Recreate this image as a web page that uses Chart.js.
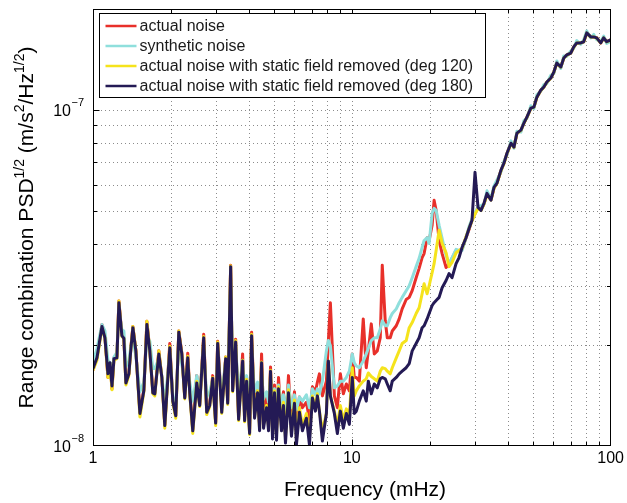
<!DOCTYPE html>
<html>
<head>
<meta charset="utf-8">
<title>Range combination PSD</title>
<script src="https://cdn.jsdelivr.net/npm/chart.js@4.4.1/dist/chart.umd.min.js"></script>
<style>
  html, body { margin: 0; padding: 0; background: #fff; }
  #wrap { width: 627px; height: 503px; }
</style>
</head>
<body>
<div id="wrap"><canvas id="psd-chart" width="627" height="503"></canvas></div>
<script>
'use strict';

// frequency in mHz
var freq = [
  1.000,1.036,1.083,1.112,1.142,1.163,1.184,1.205,1.237,1.259,1.293,1.316,1.340,1.376,1.401,1.426,1.464,1.518,1.572,1.615,
  1.658,1.703,1.733,1.796,1.845,1.894,1.980,2.034,2.088,2.145,2.203,2.262,2.323,2.365,2.429,2.517,2.584,2.677,2.750,2.824,
  2.900,2.978,3.031,3.143,3.256,3.314,3.403,3.464,3.557,3.653,3.785,3.853,3.922,4.028,4.100,4.210,4.324,4.401,4.480,4.560,
  4.683,4.767,4.852,4.939,5.027,5.117,5.209,5.349,5.445,5.542,5.692,5.845,6.003,6.110,6.275,6.444,6.677,6.858,7.043,7.233,7.363,
  7.495,7.697,7.975,8.118,8.263,8.561,8.793,9.030,9.274,9.524,9.781,10.04,10.22,10.41,10.69,11.07,11.37,11.58,11.89,12.21,
  12.54,12.88,13.11,13.46,13.71,14.07,14.33,14.85,15.24,15.65,16.22,16.66,17.11,17.72,18.20,18.69,19.02,19.54,19.89,20.43,
  20.79,21.17,21.74,22.33,23.13,23.75,24.39,25.28,25.96,26.66,27.62,28.37,
  29.13,29.92,30.73,31.56,32.41,33.28,34.49,35.42,36.38,37.69,38.71,39.75,41.19,42.30,43.44,45.01,46.22,47.47,49.18,50.51,
  51.87,53.75,55.20,56.68,58.73,60.31,61.94,64.18,65.91,67.69,70.13,72.02,73.96,76.64,78.71,80.83,83.75,86.01,88.33,91.52,
  93.99,96.53,100
];

// PSD^1/2 values, in units of 1e-8 m/s^2/Hz^1/2
var actualNoise = [
  1.68,1.84,2.30,2.12,1.60,1.77,1.48,1.83,1.85,2.70,2.15,2.10,1.55,1.64,1.97,2.27,1.93,1.26,1.47,2.35,
  1.93,1.45,1.44,1.92,1.60,1.16,2.02,1.37,1.23,2.20,1.90,1.40,1.89,1.45,1.12,1.62,1.33,2.15,1.27,1.34,
  1.62,1.18,2.05,1.30,1.84,1.36,3.45,1.48,2.08,1.22,1.88,1.22,1.60,1.12,2.18,1.26,1.50,1.16,1.88,1.20,
  1.40,1.20,1.72,1.12,1.52,1.12,1.60,1.18,1.45,1.10,1.62,1.15,1.45,1.12,1.40,1.30,1.35,1.20,1.50,1.45,1.55,
  1.64,1.41,1.56,2.06,2.67,1.41,1.30,1.64,1.43,1.53,1.46,1.88,1.60,1.60,1.56,2.39,1.71,1.92,2.31,1.88,
  1.92,2.10,3.45,2.36,2.10,2.10,2.20,2.28,2.39,2.56,2.73,2.77,2.90,3.17,3.38,3.64,3.74,4.17,4.09,4.54,
  5.39,5.03,4.09,3.74,3.40,3.47,3.62,3.82,3.82,3.85,4.17,4.41,
  4.72,4.92,5.12,5.05,5.26,5.62,5.41,5.86,6.08,6.60,6.97,7.40,7.99,7.74,8.55,8.70,9.17,9.50,10.16,10.19,
  10.95,11.45,11.74,12.10,12.48,12.95,13.83,13.42,14.32,14.58,14.81,15.40,15.87,15.83,16.00,16.95,16.55,16.50,16.43,15.83,
  16.43,15.96,16.20
];
var syntheticNoise = [
  1.78,1.95,2.30,2.20,1.80,1.77,1.65,1.84,1.90,2.55,2.22,2.20,1.72,1.80,1.98,2.10,1.85,1.45,1.55,2.10,
  2.05,1.70,1.70,1.82,1.62,1.32,1.90,1.40,1.32,2.05,1.75,1.55,1.70,1.55,1.36,1.62,1.45,1.95,1.40,1.45,
  1.58,1.32,1.85,1.42,1.80,1.50,3.10,1.70,2.02,1.40,1.80,1.45,1.62,1.35,1.90,1.45,1.55,1.40,1.65,1.38,
  1.45,1.35,1.60,1.30,1.48,1.28,1.52,1.32,1.42,1.25,1.52,1.30,1.42,1.28,1.40,1.36,1.42,1.30,1.48,1.42,1.48,
  1.43,1.56,1.92,2.06,1.99,1.49,1.51,1.56,1.56,1.60,1.67,1.88,1.77,1.73,1.71,1.79,1.88,1.95,2.06,2.10,
  2.10,2.23,2.36,2.28,2.28,2.41,2.48,2.56,2.67,2.77,2.90,3.00,3.17,3.42,3.62,3.90,4.09,4.17,4.01,4.93,
  5.10,5.03,4.54,4.15,3.69,3.49,3.64,3.85,3.82,3.82,4.17,4.50,
  4.75,4.95,5.15,5.20,5.25,5.75,5.45,5.95,6.20,6.55,7.05,7.35,8.10,7.70,8.65,8.60,9.30,9.45,10.30,10.10,
  11.10,11.40,11.90,12.00,12.70,12.85,14.00,13.30,14.50,14.45,15.00,15.30,16.10,15.70,16.20,17.20,16.40,16.80,16.20,16.00,
  16.60,15.80,16.00
];
var removedDeg120 = [
  1.68,1.80,2.25,2.10,1.60,1.76,1.47,1.80,1.82,2.70,2.12,2.09,1.52,1.62,1.96,2.27,1.93,1.22,1.45,2.35,
  1.92,1.43,1.41,1.92,1.60,1.13,1.98,1.35,1.21,2.20,1.88,1.38,1.85,1.43,1.09,1.56,1.31,2.12,1.24,1.31,
  1.60,1.15,2.04,1.25,1.84,1.33,3.44,1.45,2.06,1.19,1.80,1.18,1.58,1.08,2.15,1.22,1.46,1.12,1.78,1.16,
  1.32,1.14,1.68,1.08,1.46,1.08,1.50,1.14,1.35,1.06,1.47,1.10,1.37,1.05,1.30,1.15,1.25,1.06,1.41,1.31,1.43,
  1.27,1.11,1.25,1.79,1.41,1.27,1.15,1.32,1.19,1.29,1.23,1.71,1.41,1.46,1.51,1.56,1.585,1.65,1.61,1.585,
  1.56,1.67,1.71,1.70,1.67,1.64,1.71,1.83,1.92,2.02,2.06,2.25,2.33,2.48,2.58,2.84,3.04,2.84,3.00,3.28,
  3.49,3.82,4.39,4.01,3.76,3.42,3.52,3.76,3.82,3.87,4.20,4.44,
  4.68,4.90,5.10,5.02,5.25,5.60,5.40,5.85,6.05,6.60,6.93,7.42,7.95,7.75,8.52,8.70,9.13,9.52,10.12,10.20,
  10.90,11.45,11.70,12.10,12.45,12.96,13.78,13.43,14.28,14.58,14.78,15.40,15.83,15.85,15.96,16.95,16.50,16.50,16.40,15.85,
  16.40,15.97,16.17
];
var removedDeg180 = [
  1.70,1.83,2.27,2.10,1.64,1.77,1.51,1.82,1.83,2.67,2.13,2.09,1.54,1.64,1.95,2.25,1.92,1.25,1.46,2.30,
  1.92,1.44,1.43,1.88,1.60,1.15,1.96,1.36,1.23,2.18,1.88,1.39,1.83,1.44,1.11,1.54,1.32,2.10,1.26,1.32,
  1.59,1.17,2.02,1.26,1.82,1.34,3.42,1.46,2.04,1.20,1.79,1.19,1.56,1.09,2.13,1.21,1.44,1.11,1.77,1.13,
  1.30,1.11,1.67,1.05,1.44,1.04,1.48,1.11,1.32,1.02,1.44,1.07,1.34,1.01,1.26,1.11,1.21,1.01,1.39,1.27,1.41,
  1.27,1.035,1.25,1.79,1.41,1.25,1.09,1.27,1.13,1.25,1.16,1.60,1.25,1.27,1.36,1.46,1.36,1.56,1.43,1.53,
  1.49,1.585,1.60,1.585,1.53,1.46,1.56,1.60,1.64,1.67,1.71,1.76,1.92,2.02,2.10,2.25,2.28,2.39,2.48,2.62,
  2.67,2.71,2.77,2.96,3.11,3.26,3.17,3.49,3.64,3.90,4.17,4.44,
  4.70,6.53,5.13,5.03,5.28,5.65,5.39,5.89,6.06,6.63,6.95,7.44,7.97,7.76,8.54,8.72,9.15,9.53,10.14,10.21,
  10.93,11.47,11.72,12.12,12.46,12.98,13.81,13.44,14.30,14.60,14.79,15.42,15.85,15.85,15.98,16.98,16.52,16.52,16.41,15.85,
  16.41,15.98,16.18
];

var seriesNames = [
  'actual noise',
  'synthetic noise',
  'actual noise with static field removed (deg 120)',
  'actual noise with static field removed (deg 180)'
];
var seriesColors = ['#e8302a', '#8fdfdc', '#f5e31c', '#241a55'];

var xMajorTicks = [1, 10, 100];
var xGridValues = [2, 3, 4, 5, 6, 7, 8, 9, 10, 20, 30, 40, 50, 60, 70, 80, 90];
var yGridValues = [2e-8, 3e-8, 4e-8, 5e-8, 6e-8, 7e-8, 8e-8, 9e-8, 1e-7];
var yTickExponents = [-8, -7];

var FONT = '"Liberation Sans", Arial, Helvetica, sans-serif';

function toPoints(vals) {
  return freq.map(function(f, i) {
    return { x: f, y: vals[i] * 1e-8 };
  });
}

function hLine(ctx, x1, x2, y) {
  ctx.beginPath(); ctx.moveTo(x1, y); ctx.lineTo(x2, y); ctx.stroke();
}
function vLine(ctx, x, y1, y2) {
  ctx.beginPath(); ctx.moveTo(x, y1); ctx.lineTo(x, y2); ctx.stroke();
}

// text with superscript pieces: parts = [[text, isSup], ...]
function richWidth(ctx, parts, size, supSize) {
  var w = 0;
  parts.forEach(function(p) {
    ctx.font = (p[1] ? supSize : size) + 'px ' + FONT;
    w += ctx.measureText(p[0]).width;
  });
  return w;
}
function drawRich(ctx, parts, x, y, size, supSize, supRise) {
  var cx = x;
  parts.forEach(function(p) {
    ctx.font = (p[1] ? supSize : size) + 'px ' + FONT;
    ctx.fillText(p[0], cx, p[1] ? y - supRise : y);
    cx += ctx.measureText(p[0]).width;
  });
}

var matlabAxes = {
  id: 'matlabAxes',
  beforeDatasetsDraw: function(chart) {
    var ctx = chart.ctx, a = chart.chartArea;
    var xs = chart.scales.x, ys = chart.scales.y;
    ctx.save();
    ctx.strokeStyle = '#8c8c8c';
    ctx.lineWidth = 1;
    ctx.setLineDash([1, 3]);
    xGridValues.forEach(function(v) {
      var px = Math.round(xs.getPixelForValue(v)) + 0.5;
      vLine(ctx, px, a.bottom, a.top);
    });
    yGridValues.forEach(function(v) {
      var py = Math.round(ys.getPixelForValue(v)) + 0.5;
      hLine(ctx, a.left, a.right, py);
    });
    ctx.restore();
  },
  afterDatasetsDraw: function(chart) {
    var ctx = chart.ctx, a = chart.chartArea;
    var xs = chart.scales.x, ys = chart.scales.y;
    var L = Math.round(a.left) + 0.5, R = Math.round(a.right) - 0.5;
    var T = Math.round(a.top) + 0.5, B = Math.round(a.bottom) - 0.5;
    ctx.save();

    // box and inward ticks
    ctx.strokeStyle = '#000';
    ctx.lineWidth = 1;
    ctx.strokeRect(L, T, R - L, B - T);
    xGridValues.forEach(function(v) {
      var px = Math.round(xs.getPixelForValue(v)) + 0.5;
      var len = xMajorTicks.indexOf(v) >= 0 ? 6 : 3.5;
      vLine(ctx, px, B, B - len);
      vLine(ctx, px, T, T + len);
    });
    yGridValues.forEach(function(v) {
      var py = Math.round(ys.getPixelForValue(v)) + 0.5;
      var len = v === 1e-7 ? 6 : 3.5;
      hLine(ctx, L, L + len, py);
      hLine(ctx, R, R - len, py);
    });

    // y tick labels 10^-8, 10^-7
    ctx.fillStyle = '#000';
    ctx.textBaseline = 'alphabetic';
    yTickExponents.forEach(function(e) {
      var py = ys.getPixelForValue(Math.pow(10, e));
      ctx.font = '16px ' + FONT;
      ctx.textAlign = 'right';
      ctx.fillText('10', a.left - 22, py + 6);
      ctx.font = '11px ' + FONT;
      ctx.textAlign = 'left';
      ctx.fillText('\u2212' + Math.abs(e), a.left - 21.5, py - 4);
    });

    // y axis title
    var yTitle = [['Range combination PSD', false], ['1/2', true], [' (m/s', false], ['2', true],
                  ['/Hz', false], ['1/2', true], [')', false]];
    ctx.save();
    ctx.translate(33, (a.top + a.bottom) / 2);
    ctx.rotate(-Math.PI / 2);
    ctx.textAlign = 'left';
    var tw = richWidth(ctx, yTitle, 21, 14);
    drawRich(ctx, yTitle, -tw / 2, 0, 21, 14, 9);
    ctx.restore();

    // x axis title
    ctx.font = '21px ' + FONT;
    ctx.textAlign = 'center';
    ctx.fillText('Frequency (mHz)', 365, 496);

    // legend
    var lx = a.left + 6.5, ly = a.top + 4.5, lw = 386, lh = 84;
    ctx.fillStyle = '#fff';
    ctx.fillRect(lx, ly, lw, lh);
    ctx.strokeStyle = '#000';
    ctx.strokeRect(lx, ly, lw, lh);
    ctx.font = '16px ' + FONT;
    ctx.textAlign = 'left';
    ctx.textBaseline = 'middle';
    seriesNames.forEach(function(name, i) {
      var ry = ly + 12.5 + i * 20;
      ctx.strokeStyle = seriesColors[i];
      ctx.lineWidth = 2.5;
      hLine(ctx, lx + 6, lx + 37, ry);
      ctx.fillStyle = '#1a1a1a';
      ctx.fillText(name, lx + 40, ry + 1);
    });

    ctx.restore();
  }
};

var seriesValues = [actualNoise, syntheticNoise, removedDeg120, removedDeg180];
var datasets = seriesValues.map(function(vals, i) {
  return {
    label: seriesNames[i],
    data: toPoints(vals),
    borderColor: seriesColors[i],
    backgroundColor: seriesColors[i],
    borderWidth: 3,
    borderJoinStyle: 'round',
    pointRadius: 0,
    pointHoverRadius: 0,
    tension: 0,
    fill: false,
    order: 3 - i
  };
});

var psdCtx = document.getElementById('psd-chart').getContext('2d');
var psdChart = new Chart(psdCtx, {
  type: 'line',
  data: { datasets: datasets },
  options: {
    responsive: false,
    animation: false,
    events: [],
    layout: { padding: { top: 9, right: 15, left: 0, bottom: 0 } },
    plugins: {
      legend: { display: false },
      tooltip: { enabled: false }
    },
    scales: {
      x: {
        type: 'logarithmic',
        min: 1,
        max: 100,
        grid: { display: false, drawTicks: false },
        border: { display: false },
        ticks: {
          autoSkip: false,
          maxRotation: 0,
          padding: 3,
          color: '#000',
          font: { family: FONT, size: 16 },
          callback: function(value) {
            return xMajorTicks.indexOf(value) >= 0 ? String(value) : '';
          }
        },
        afterFit: function(scale) { scale.height = 57; }
      },
      y: {
        type: 'logarithmic',
        min: 1e-8,
        max: 2e-7,
        grid: { display: false, drawTicks: false },
        border: { display: false },
        ticks: { display: false },
        afterFit: function(scale) { scale.width = 93; }
      }
    }
  },
  plugins: [matlabAxes]
});
</script>
</body>
</html>
